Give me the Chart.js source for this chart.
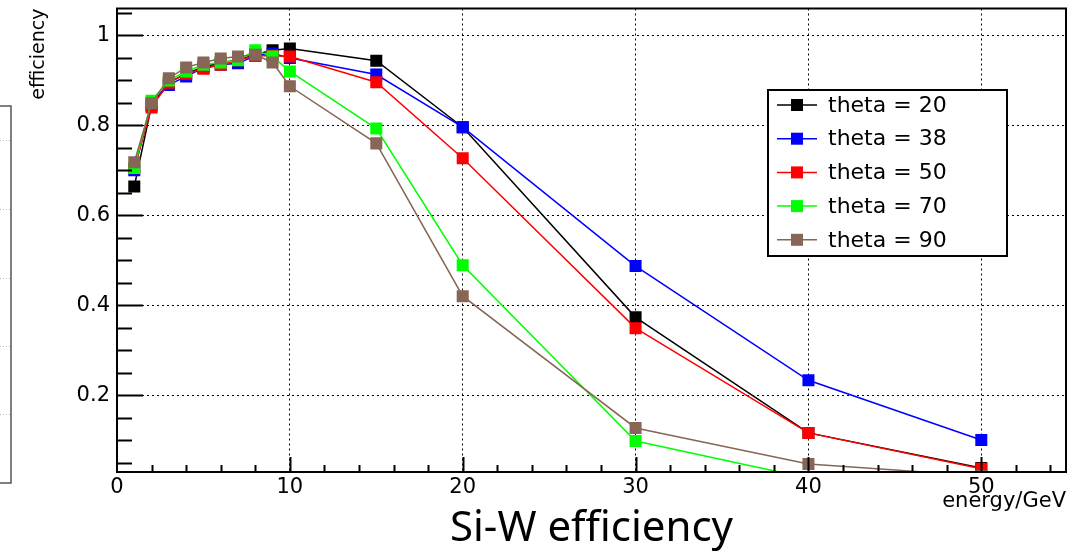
<!DOCTYPE html>
<html>
<head>
<meta charset="utf-8">
<title>Si-W efficiency</title>
<script src="https://cdn.jsdelivr.net/npm/chart.js@4.4.1/dist/chart.umd.min.js"></script>
<style>
  html, body { margin: 0; padding: 0; background: #fff; }
  #wrap { position: relative; width: 1086px; height: 553px; }
</style>
</head>
<body>
<div id="wrap"><canvas id="chart"></canvas></div>
<script>
// --- data ---
const energies = [1, 2, 3, 4, 5, 6, 7, 8, 9, 10, 15, 20, 30, 40, 50];
const theta20 = [0.664, 0.845, 0.895, 0.915, 0.930, 0.940, 0.945, 0.958, 0.967, 0.971, 0.944, 0.796, 0.373, 0.116, 0.038];
const theta38 = [0.700, 0.850, 0.890, 0.909, 0.928, 0.935, 0.938, 0.955, 0.960, 0.950, 0.913, 0.796, 0.487, 0.233, 0.100];
const theta50 = [0.705, 0.840, 0.895, 0.915, 0.926, 0.935, 0.945, 0.955, 0.955, 0.953, 0.896, 0.727, 0.349, 0.116, 0.036];
const theta70 = [0.705, 0.855, 0.900, 0.920, 0.935, 0.940, 0.945, 0.967, 0.953, 0.920, 0.793, 0.489, 0.098, 0.015, 0.005];
const theta90 = [0.718, 0.849, 0.905, 0.929, 0.940, 0.949, 0.953, 0.957, 0.940, 0.887, 0.760, 0.420, 0.127, 0.047, 0.020];

const seriesLabels = ['theta = 20', 'theta = 38', 'theta = 50', 'theta = 70', 'theta = 90'];
const seriesColors = ['#000000', '#0000ff', '#ff0000', '#00ff00', '#876657'];
const seriesValues = [theta20, theta38, theta50, theta70, theta90];

const xTicks = [0, 10, 20, 30, 40, 50];
const yTicks = [0.2, 0.4, 0.6, 0.8, 1];

const TICK_FONT = 'DejaVu Sans';

// ROOT style frame + inward tick marks
const framePlugin = {
  id: 'rootFrame',
  afterDatasetsDraw(chart) {
    const { ctx, chartArea: a, scales: { x, y } } = chart;
    ctx.save();
    ctx.strokeStyle = '#000';
    ctx.lineWidth = 2;
    ctx.beginPath();
    // x ticks every 2, major every 10
    for (let v = 2; v < x.max; v += 2) {
      const px = Math.round(x.getPixelForValue(v)) + 0.5;
      const len = v % 10 === 0 ? 15 : 7;
      ctx.moveTo(px, a.bottom);
      ctx.lineTo(px, a.bottom - len);
    }
    // y ticks every 0.05, major every 0.2
    for (let i = 1; i * 0.05 < y.max; i++) {
      const v = i * 0.05;
      if (v < y.min) continue;
      const py = Math.round(y.getPixelForValue(v)) + 0.5;
      const len = i % 4 === 0 ? 26 : 15;
      ctx.moveTo(a.left, py);
      ctx.lineTo(a.left + len, py);
    }
    ctx.stroke();
    ctx.lineWidth = 2;
    ctx.strokeRect(a.left, a.top, a.right - a.left, a.bottom - a.top);
    ctx.restore();
  }
};

// legend box in the upper right, drawn from the datasets
const legendPlugin = {
  id: 'rootLegend',
  afterDraw(chart) {
    const { ctx } = chart;
    const box = { left: 768, top: 90, width: 239, height: 166 };
    ctx.save();
    ctx.fillStyle = '#fff';
    ctx.fillRect(box.left, box.top, box.width, box.height);
    ctx.strokeStyle = '#000';
    ctx.lineWidth = 2;
    ctx.strokeRect(box.left, box.top, box.width, box.height);
    ctx.font = '22px "' + TICK_FONT + '"';
    ctx.textBaseline = 'middle';
    chart.data.datasets.forEach((ds, i) => {
      const cy = box.top + 15 + i * 33.7;
      ctx.strokeStyle = ds.borderColor;
      ctx.lineWidth = 1.5;
      ctx.beginPath();
      ctx.moveTo(box.left + 9, cy);
      ctx.lineTo(box.left + 49, cy);
      ctx.stroke();
      ctx.fillStyle = ds.backgroundColor;
      ctx.fillRect(box.left + 23, cy - 6, 12, 12);
      ctx.fillStyle = '#000';
      ctx.fillText(ds.label, box.left + 60, cy + 1);
    });
    ctx.restore();
  }
};

// edge of the neighbouring panel visible at the left border
const sliverPlugin = {
  id: 'sliver',
  beforeDraw(chart) {
    const { ctx } = chart;
    ctx.save();
    ctx.strokeStyle = '#555';
    ctx.lineWidth = 1.5;
    ctx.strokeRect(-2, 106, 13, 377);
    ctx.strokeStyle = '#bbb';
    ctx.lineWidth = 1;
    ctx.setLineDash([1, 2]);
    ctx.beginPath();
    [140, 209, 278, 346, 414].forEach(py => {
      ctx.moveTo(0, py + 0.5);
      ctx.lineTo(10, py + 0.5);
    });
    ctx.stroke();
    ctx.restore();
  }
};

const datasets = seriesValues.map((vals, i) => ({
  label: seriesLabels[i],
  data: vals.map((v, j) => ({ x: energies[j], y: v })),
  borderColor: seriesColors[i],
  backgroundColor: seriesColors[i],
  borderWidth: 1.5,
  pointStyle: 'rect',
  pointRadius: 8.5,
  pointBorderWidth: 0,
  tension: 0,
  clip: 0,
  order: 5 - i
}));

new Chart(document.getElementById('chart'), {
  type: 'line',
  data: { datasets },
  plugins: [sliverPlugin, framePlugin, legendPlugin],
  options: {
    responsive: true,
    maintainAspectRatio: false,
    animation: false,
    layout: { padding: { top: 8, right: 20, left: 0, bottom: 0 } },
    plugins: {
      legend: { display: false },
      tooltip: { enabled: false },
      title: {
        display: true,
        text: 'Si-W efficiency',
        position: 'bottom',
        fullSize: false,
        color: '#000',
        font: { family: 'Noto Sans', size: 42, weight: 'normal', lineHeight: 1 },
        padding: { top: 0, bottom: 3 }
      }
    },
    scales: {
      x: {
        type: 'linear',
        min: 0,
        max: 54.9,
        afterBuildTicks: s => { s.ticks = xTicks.map(v => ({ value: v })); },
        afterFit: s => { s.height = 36; s.paddingLeft = 0; s.paddingRight = 0; },
        grid: { color: '#000', lineWidth: 1, drawTicks: false },
        border: { display: false, dash: [2, 3] },
        ticks: {
          autoSkip: false,
          maxRotation: 0,
          padding: 3,
          color: '#000',
          font: { family: TICK_FONT, size: 21 },
          callback: v => String(v)
        },
        title: {
          display: true,
          text: 'energy/GeV',
          align: 'end',
          color: '#000',
          font: { family: TICK_FONT, size: 21, lineHeight: 1 },
          padding: { top: 0, bottom: -4 }
        }
      },
      y: {
        type: 'linear',
        min: 0.029,
        max: 1.06,
        afterBuildTicks: s => { s.ticks = yTicks.map(v => ({ value: v })); },
        afterFit: s => { s.width = 117; s.paddingTop = 0; s.paddingBottom = 0; },
        grid: { color: '#000', lineWidth: 1, drawTicks: false },
        border: { display: false, dash: [2, 3] },
        ticks: {
          padding: 7,
          color: '#000',
          font: { family: TICK_FONT, size: 21 },
          callback: v => String(v)
        },
        title: {
          display: true,
          text: 'efficiency',
          align: 'end',
          color: '#000',
          font: { family: TICK_FONT, size: 19, lineHeight: 1 },
          padding: { top: 30, bottom: 0 }
        }
      }
    }
  }
});
</script>
</body>
</html>
